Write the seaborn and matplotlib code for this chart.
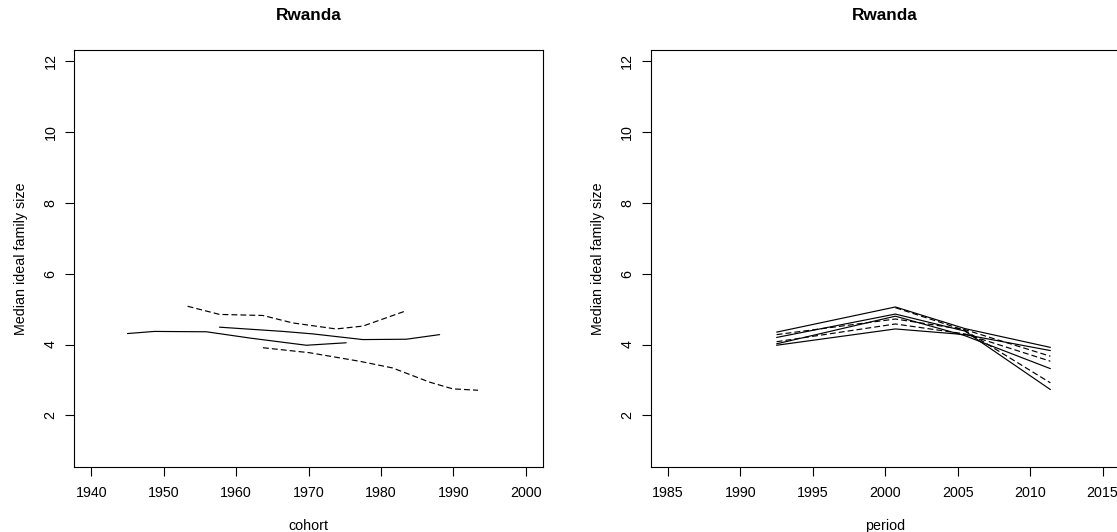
import numpy as np
import pandas as pd
import matplotlib
matplotlib.use("Agg")
import matplotlib.pyplot as plt
import seaborn as sns

# ---- cohort panel: median ideal family size by birth cohort ----
coh_solid_a_x = [1945.0, 1948.7, 1955.9, 1962.0, 1969.7, 1975.2]
coh_solid_a_y = [4.31, 4.37, 4.36, 4.18, 3.98, 4.05]
coh_solid_b_x = [1957.7, 1966.5, 1970.6, 1977.5, 1983.5, 1988.1]
coh_solid_b_y = [4.49, 4.37, 4.30, 4.14, 4.15, 4.28]
coh_upper_x = [1953.3, 1957.7, 1963.7, 1967.8, 1973.8, 1977.5, 1983.3]
coh_upper_y = [5.08, 4.85, 4.82, 4.61, 4.44, 4.52, 4.94]
coh_lower_x = [1963.7, 1970.1, 1977.0, 1981.6, 1986.7, 1989.9, 1993.4]
coh_lower_y = [3.91, 3.77, 3.53, 3.34, 2.94, 2.75, 2.71]

# ---- period panel: median ideal family size by survey period ----
per_years = [1992.5, 2000.7, 2005.5, 2011.4]
per_l1 = [4.35, 5.06, 4.45, 3.92]
per_l2 = [np.nan, 5.04, 4.40, 2.92]
per_l3 = [4.20, 4.86, 4.38, 2.73]
per_l4 = [4.28, 4.72, 4.42, 3.67]
per_l5 = [4.08, 4.58, 4.30, 3.53]
per_l6 = [3.98, 4.44, 4.28, 3.83]
per_l7 = [4.02, 4.80, 4.25, 3.32]

cohort_ticks = [1940, 1950, 1960, 1970, 1980, 1990, 2000]
period_ticks = [1985, 1990, 1995, 2000, 2005, 2010, 2015]
value_ticks = [2, 4, 6, 8, 10, 12]

country = "Rwanda"
ylab = "Median ideal family size"


def frame(series, xname):
    rows = []
    for i, (xs, ys, kind) in enumerate(series):
        for x, y in zip(xs, ys):
            if not np.isnan(y):
                rows.append({xname: x, "value": y, "line": i, "kind": kind})
    return pd.DataFrame(rows)


cohort_df = frame([
    (coh_solid_a_x, coh_solid_a_y, "solid"),
    (coh_solid_b_x, coh_solid_b_y, "solid"),
    (coh_upper_x, coh_upper_y, "dashed"),
    (coh_lower_x, coh_lower_y, "dashed"),
], "cohort")

period_df = frame([
    (per_years, per_l1, "solid"),
    (per_years, per_l2, "dashed"),
    (per_years, per_l3, "solid"),
    (per_years, per_l4, "dashed"),
    (per_years, per_l5, "dashed"),
    (per_years, per_l6, "solid"),
    (per_years, per_l7, "solid"),
], "period")

sns.set_theme(style="white")
plt.rcParams["font.family"] = ["Liberation Sans", "DejaVu Sans"]

W, H = 1117, 532
fig = plt.figure(figsize=(W / 100, H / 100), dpi=100)
fig.patch.set_facecolor("white")

box_top, box_bot = 50, 467
box_w = 469.3
lefts = [73.9, 650.6]

dash_map = {"solid": "", "dashed": (5, 2.6)}
fs = 10.3

panels = [
    (cohort_df, "cohort", cohort_ticks, (1937.6, 2002.4)),
    (period_df, "period", period_ticks, (1983.8, 2016.2)),
]

for left, (df, xname, xt, xlim) in zip(lefts, panels):
    ax = fig.add_axes([left / W, (H - box_bot) / H, box_w / W, (box_bot - box_top) / H])
    sns.lineplot(data=df, x=xname, y="value", units="line", style="kind",
                 estimator=None, sort=False, dashes=dash_map, color="black",
                 linewidth=0.85, legend=False, ax=ax)
    ax.set_xlim(*xlim)
    ax.set_ylim(0.545, 12.31)
    ax.set_xticks(xt)
    ax.set_yticks(value_ticks)
    ax.set_xticklabels([str(t) for t in xt], fontsize=fs)
    ax.set_yticklabels([str(t) for t in value_ticks], fontsize=fs,
                       rotation=90, va="center", ha="right")
    ax.tick_params(axis="both", direction="out", length=6.2, width=0.8,
                   colors="black", bottom=True, left=True)
    ax.tick_params(axis="x", pad=7.5)
    ax.tick_params(axis="y", pad=5.5)
    ax.set_xlabel("")
    ax.set_ylabel("")
    for s in ax.spines.values():
        s.set_visible(True)
        s.set_color("black")
        s.set_linewidth(0.8)
    ax.grid(False)

    cx = (left + box_w / 2) / W
    fig.text(cx, 1 - 16 / H, country, ha="center", va="center",
             fontsize=12.4, fontweight="bold", color="black")
    fig.text(cx, 1 - 526 / H, xname, ha="center", va="center",
             fontsize=fs, color="black")
    fig.text((left - 53) / W, 1 - ((box_top + box_bot) / 2) / H, ylab,
             ha="center", va="center", rotation=90, fontsize=fs, color="black")

fig.savefig("out.png", dpi=100, facecolor="white")
